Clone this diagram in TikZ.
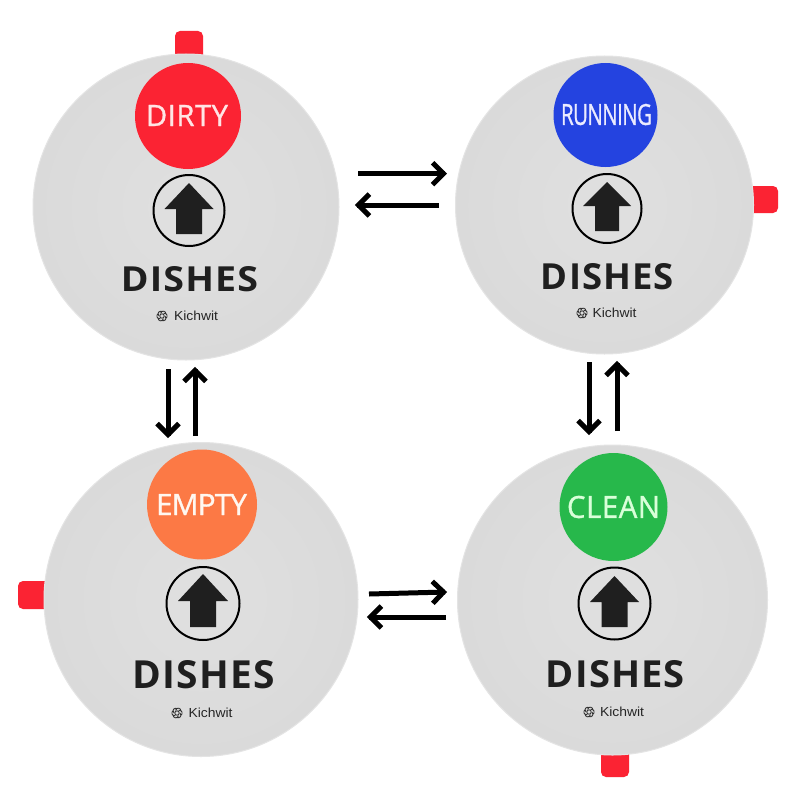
\documentclass[tikz,border=0pt]{standalone}
\usepackage{fontspec}
\usepackage{graphicx}
\usetikzlibrary{calc}
\newfontfamily\osans[LetterSpace=3]{Open Sans}
\newfontfamily\osemi[FakeBold=1.1,LetterSpace=2]{Open Sans}
\newfontfamily\osemitight[FakeBold=1.1,LetterSpace=-3]{Open Sans}
\newfontfamily\lsans{Liberation Sans}
\definecolor{discinner}{HTML}{E0E0E0}
\definecolor{discouter}{HTML}{DADADA}
\definecolor{discrim}{HTML}{E4E4E4}
\definecolor{tabred}{HTML}{FB2333}
\definecolor{badgered}{HTML}{FB2333}
\definecolor{badgeblue}{HTML}{2443E0}
\definecolor{badgeorange}{HTML}{FC7945}
\definecolor{badgegreen}{HTML}{27B84B}
\definecolor{inkblack}{HTML}{1F1F1F}
\tikzset{
  disc/.style={circle,inner color=discinner,outer color=discouter,draw=discrim,line width=1pt,inner sep=0pt,outer sep=0pt},
  badge/.style={circle,inner sep=0pt,outer sep=0pt},
  ringmark/.style={circle,draw=black,line width=2pt,inner sep=0pt,outer sep=0pt},
  tabshape/.style={fill=tabred,rounded corners=5pt},
  uparrow/.style={fill=inkblack},
  wordmark/.style={inner sep=0pt,outer sep=0pt,text=inkblack},
  stateword/.style={inner sep=0pt,outer sep=0pt},
  brandword/.style={inner sep=0pt,outer sep=0pt,text=black!85},
  flowline/.style={line width=5pt,draw=black,miter limit=10,line join=miter}
}
\newcommand{\dishword}[2]{\resizebox{#1pt}{#2pt}{\osans\bfseries DISHES}}
\newcommand{\stateword}[3]{\resizebox{#1pt}{#2pt}{\osemi #3}}
\newcommand{\brandword}{\resizebox{44pt}{9.5pt}{\lsans Kichwit}}
\newcommand{\brandicon}[2]{%
  \begin{scope}[shift={(#1,#2)}]
    \draw[black!80,line width=.9pt] (0,0) circle (2.2);
    \foreach \a in {0,60,...,300}{
      \draw[black!80,line width=.9pt,rotate=\a] (1.6,-2.6) .. controls (5.6,-3.2) and (6,1) .. (3.9,2.2);
    }
  \end{scope}}
\newcommand{\uparrowmark}[6]{%
  \fill[uparrow] (#1,#2) -- ({#1+#3},#4) -- ({#1+#5},#4) -- ({#1+#5},#6) -- ({#1-#5},#6) -- ({#1-#5},#4) -- ({#1-#3},#4) -- cycle;}
\newcommand{\flowarrow}[2]{%
  \draw[flowline] (#1) -- ($(#2)!2pt!(#1)$);
  \draw[flowline] ($($(#2)!3.5pt!(#1)$)!15.5pt!45:(#1)$) -- ($(#2)!3.5pt!(#1)$) -- ($($(#2)!3.5pt!(#1)$)!15.5pt!-45:(#1)$);}
\begin{document}
\begin{tikzpicture}[x=1pt,y=-1pt]
\useasboundingbox (0,0) rectangle (800,800);
\fill[white] (0,0) rectangle (800,800);
% tabs
\fill[tabshape] (175,70) -- (175,31) -- (203,31) -- (203,70) [sharp corners] -- cycle;
\fill[tabshape] (740,186) -- (778,186) -- (778,213) -- (740,213) [sharp corners] -- cycle;
\fill[tabshape] (60,581) -- (18,581) -- (18,609) -- (60,609) [sharp corners] -- cycle;
\fill[tabshape] (601,740) -- (601,777) -- (629,777) -- (629,740) [sharp corners] -- cycle;
% discs
\node[disc,minimum size=306pt] (discdirty) at (186,207) {};
\node[disc,minimum size=298pt] (discrunning) at (604.5,205) {};
\node[disc,minimum size=314pt] (discempty) at (201,599.5) {};
\node[disc,minimum size=310pt] (discclean) at (612.5,600) {};
% badges
\node[badge,fill=badgered,minimum size=106pt] (badgedirty) at (188,116) {};
\node[badge,fill=badgeblue,minimum size=104pt] (badgerunning) at (605.5,115) {};
\node[badge,fill=badgeorange,minimum size=110pt] (badgeempty) at (202,504.5) {};
\node[badge,fill=badgegreen,minimum size=108pt] (badgeclean) at (613.5,507) {};
\node[stateword,text=red!10!white] (labeldirty) at (187,115.5) {\stateword{82}{21}{DIRTY}};
\node[stateword,text=blue!8!white] (labelrunning) at (606.5,114.5) {\resizebox{91pt}{21pt}{\osemitight RUNNING}};
\node[stateword,text=orange!6!white] (labelempty) at (201.5,504.5) {\resizebox{91pt}{21pt}{\osemitight EMPTY}};
\node[stateword,text=green!15!white] (labelclean) at (613.5,507) {\stateword{93}{22}{CLEAN}};
% rings and arrows
\node[ringmark,minimum size=71pt] (ringdirty) at (189,210.5) {};
\node[ringmark,minimum size=69pt] (ringrunning) at (607,208.5) {};
\node[ringmark,minimum size=73pt] (ringempty) at (203,603.5) {};
\node[ringmark,minimum size=72pt] (ringclean) at (614.5,603.5) {};
\uparrowmark{189}{183}{24.5}{209}{13}{234}
\uparrowmark{607}{182}{24}{206}{12}{231}
\uparrowmark{203}{574}{25}{601}{13}{627}
\uparrowmark{614.5}{576}{24.5}{602}{13}{627}
% words
\node[wordmark] (dishesdirty) at (189.5,279.5) {\dishword{137}{25}};
\node[wordmark] (dishesrunning) at (607.5,277) {\dishword{133}{26}};
\node[wordmark] (dishesempty) at (204,675) {\dishword{142}{28}};
\node[wordmark] (dishesclean) at (615.5,674.5) {\dishword{139}{27}};
\node[brandword] (branddirty) at (196,316) {\brandword};
\node[brandword] (brandrunning) at (614.5,313) {\brandword};
\node[brandword] (brandempty) at (210.5,713) {\brandword};
\node[brandword] (brandclean) at (622,712) {\brandword};
\brandicon{162}{316}
\brandicon{582}{313}
\brandicon{177}{713}
\brandicon{589}{712}
% connector ends
\coordinate (dirtyrunA) at (358,173.7);
\coordinate (dirtyrunB) at (447,173.7);
\coordinate (rundirtyA) at (439,205);
\coordinate (rundirtyB) at (355,205);
\coordinate (dirtyemptyA) at (168,369);
\coordinate (dirtyemptyB) at (168,438);
\coordinate (emptydirtyA) at (195,436);
\coordinate (emptydirtyB) at (195,367);
\coordinate (runcleanA) at (589,362);
\coordinate (runcleanB) at (589,435);
\coordinate (cleanrunA) at (617,431);
\coordinate (cleanrunB) at (617,361);
\coordinate (emptycleanA) at (369,594);
\coordinate (emptycleanB) at (447,592);
\coordinate (cleanemptyA) at (446,617);
\coordinate (cleanemptyB) at (367,617);
\flowarrow{dirtyrunA}{dirtyrunB}
\flowarrow{rundirtyA}{rundirtyB}
\flowarrow{dirtyemptyA}{dirtyemptyB}
\flowarrow{emptydirtyA}{emptydirtyB}
\flowarrow{runcleanA}{runcleanB}
\flowarrow{cleanrunA}{cleanrunB}
\flowarrow{emptycleanA}{emptycleanB}
\flowarrow{cleanemptyA}{cleanemptyB}
\end{tikzpicture}
\end{document}
